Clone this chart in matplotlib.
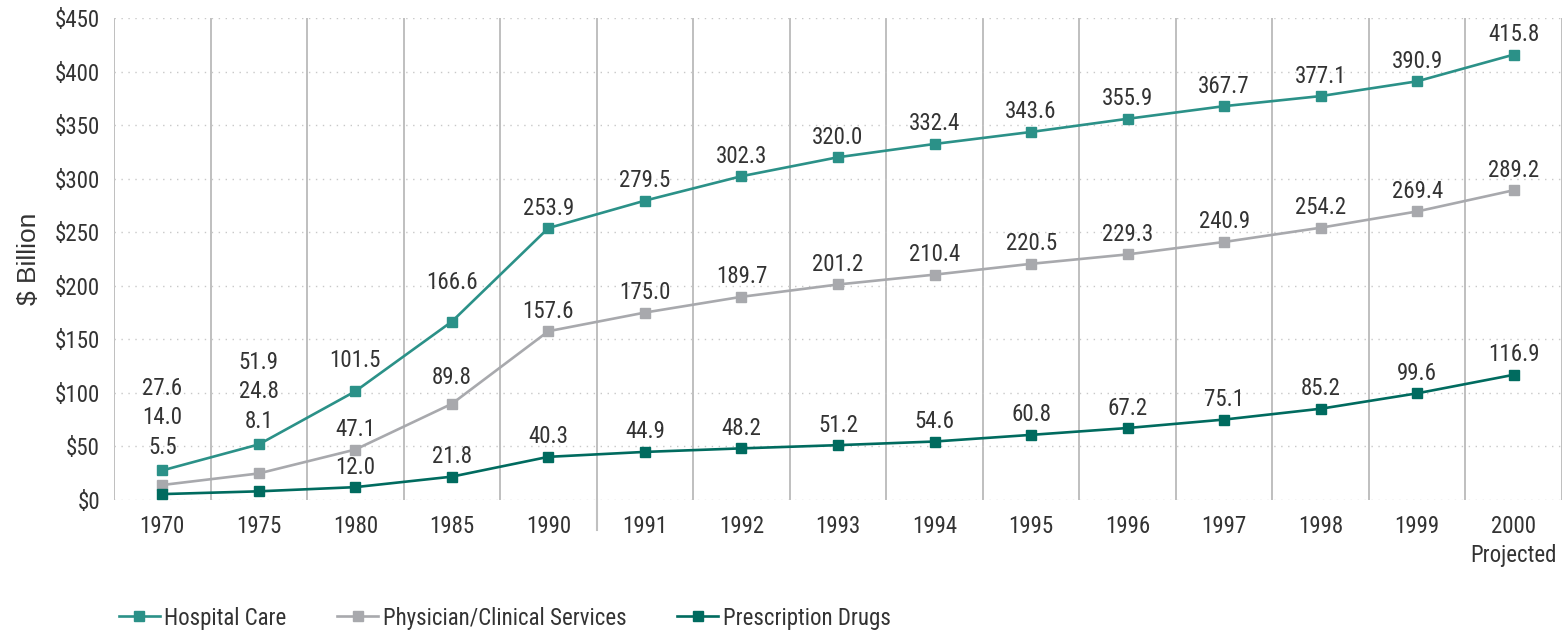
import matplotlib
matplotlib.use("Agg")
import matplotlib.pyplot as plt
from matplotlib import font_manager
import numpy as np

years = ["1970", "1975", "1980", "1985", "1990", "1991", "1992", "1993",
         "1994", "1995", "1996", "1997", "1998", "1999", "2000\nProjected"]
hospital = [27.6, 51.9, 101.5, 166.6, 253.9, 279.5, 302.3, 320.0,
            332.4, 343.6, 355.9, 367.7, 377.1, 390.9, 415.8]
physician = [14.0, 24.8, 47.1, 89.8, 157.6, 175.0, 189.7, 201.2,
             210.4, 220.5, 229.3, 240.9, 254.2, 269.4, 289.2]
drugs = [5.5, 8.1, 12.0, 21.8, 40.3, 44.9, 48.2, 51.2,
         54.6, 60.8, 67.2, 75.1, 85.2, 99.6, 116.9]
series_names = ["Hospital Care", "Physician/Clinical Services", "Prescription Drugs"]
yticks = [0, 50, 100, 150, 200, 250, 300, 350, 400, 450]

colors = ["#2b9188", "#a8a9ad", "#006b5f"]
text_color = "#333333"

# pick a narrow font if one is installed
names = {f.name for f in font_manager.fontManager.ttflist}
narrow = "Roboto"
for cand in ["Roboto Condensed", "Liberation Sans Narrow", "DejaVu Sans Condensed", "Roboto"]:
    if cand in names:
        narrow = cand
        break
plt.rcParams["font.family"] = [narrow, "DejaVu Sans"]
fs = 16.5

fig = plt.figure(figsize=(15.66, 6.33), dpi=100)
ax = fig.add_axes([114 / 1566, 1 - 500 / 633, (1562 - 114) / 1566, 482 / 633])

x = np.arange(len(years))
all_series = [hospital, physician, drugs]
for vals, name, c in zip(all_series, series_names, colors):
    ax.plot(x, vals, color=c, lw=1.9, marker="s", ms=7.5, label=name, zorder=3)

# data labels: the first two years are stacked above the hospital point
px = 0.72  # points per pixel at 100 dpi
for i in x:
    if i < 2:
        for k, vals in enumerate(all_series):
            ax.annotate(f"{vals[i]:.1f}", (i, hospital[i]),
                        xytext=(0, (82 - 29.5 * k) * px), textcoords="offset points",
                        ha="center", va="center", fontsize=fs, color=text_color)
    else:
        for k, vals in enumerate(all_series):
            off = 20
            if k == 0 and i == 2:
                off = 31
            if k == 0 and i == 3:
                off = 39
            if k == 1 and i == 3:
                off = 26
            ax.annotate(f"{vals[i]:.1f}", (i, vals[i]),
                        xytext=(0, off * px), textcoords="offset points",
                        ha="center", va="center", fontsize=fs, color=text_color)

ax.set_xlim(-0.5, len(years) - 0.5)
ax.set_ylim(0, 450)
ax.set_yticks(yticks)
ax.set_yticklabels([f"${v}" for v in yticks], fontsize=fs, color=text_color)
ax.set_xticks(x)
ax.set_xticklabels(years, fontsize=fs, color=text_color, linespacing=1.3, va="top")
ax.tick_params(axis="both", length=0)
ax.tick_params(axis="y", pad=10)
ax.tick_params(axis="x", pad=11)

ax.set_xticks(np.arange(-0.5, len(years)), minor=True)
ax.tick_params(axis="x", which="minor", length=0)
ax.grid(axis="y", which="major", color="#c8c8c8", lw=1.0, linestyle=(0, (1, 4)))
ax.grid(axis="x", which="minor", color="#b4b4b4", lw=1.2)
ax.grid(axis="x", which="major", visible=False)
ax.axvline(4.5, ymin=-30 / 482, ymax=0, color="#c0c0c0", lw=1.5, clip_on=False)
for s in ax.spines.values():
    s.set_visible(False)
ax.set_axisbelow(True)

ax.set_ylabel("$ Billion", fontsize=19, color=text_color, family="Liberation Sans", labelpad=10)

fig.legend(loc="center left", bbox_to_anchor=(98 / 1566, 15 / 633), ncol=3, frameon=False,
           fontsize=fs, handlelength=1.8, handletextpad=0.2, columnspacing=2.2,
           labelcolor=text_color)

fig.savefig("out.png", dpi=100)
